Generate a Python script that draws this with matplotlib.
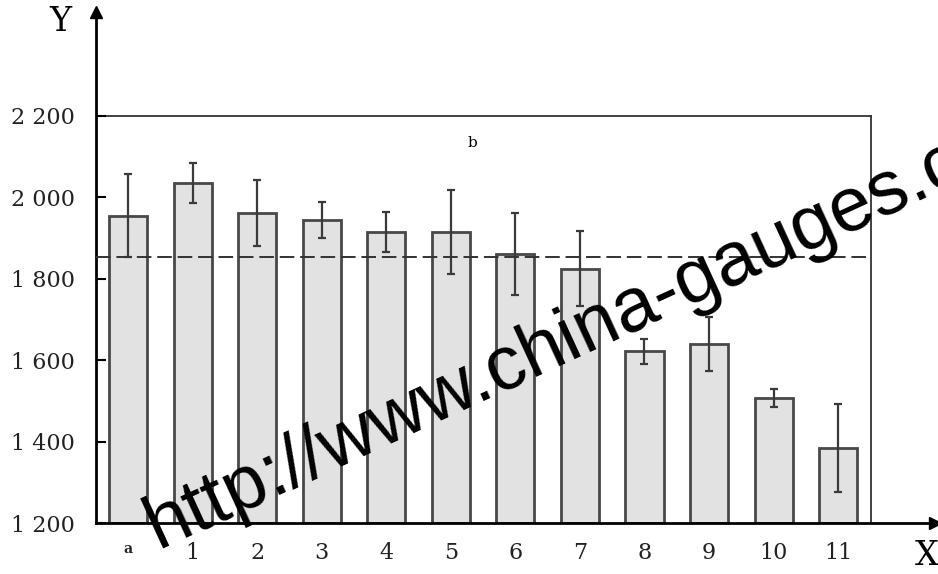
import numpy as np
import matplotlib
matplotlib.use("Agg")
import matplotlib.pyplot as plt

# values
groups = ['a', '1', '2', '3', '4', '5', '6', '7', '8', '9', '10', '11']
means = [1955, 2035, 1962, 1944, 1915, 1915, 1861, 1824, 1622, 1640, 1507, 1384]
errs = [102, 49, 81, 45, 50, 104, 101, 92, 31, 66, 23, 109]
ref_level = 1854
y_ticks = [1200, 1400, 1600, 1800, 2000, 2200]
y_ticklabels = ['1 200', '1 400', '1 600', '1 800', '2 000', '2 200']

base = 1200
edge = '#484848'
serif = 'DejaVu Serif'

fig = plt.figure(figsize=(9.38, 5.74), dpi=100)
W, H = 938, 574
# axes box in pixels: x 96..935, y 12..523
ax = fig.add_axes([96 / W, (H - 523) / H, (935 - 96) / W, (523 - 12) / H])

x = np.arange(len(groups))
xmin, xmax = -0.496, 12.50
ymax = 2455
frame_x = 11.51
ax.set_xlim(xmin, xmax)
ax.set_ylim(base, ymax)

heights = np.array(means) - base
ax.bar(x, heights, bottom=base, width=0.59, color='#e2e2e2',
       edgecolor=edge, linewidth=2, zorder=2)
ax.errorbar(x, means, yerr=errs, fmt='none', ecolor='#3a3a3a',
            elinewidth=1.6, capsize=3, capthick=1.6, zorder=3)

# dashed reference line and frame box
ax.plot([xmin, frame_x], [ref_level, ref_level], color='#333333', lw=1.4,
        dashes=(7.5, 3), zorder=4)
ax.plot([xmin, frame_x], [2200, 2200], color='#333333', lw=1.3, zorder=1)
ax.plot([frame_x, frame_x], [base, 2200], color='#333333', lw=1.3, zorder=1)

# axes with arrows
for s in ['top', 'right']:
    ax.spines[s].set_visible(False)
ax.spines['left'].set_linewidth(2)
ax.spines['bottom'].set_linewidth(2)
ax.plot([xmax], [base], marker='>', color='black', ms=9, clip_on=False, zorder=5)
ax.plot([xmin], [ymax], marker='^', color='black', ms=8, clip_on=False, zorder=5)

ax.set_yticks(y_ticks)
ax.set_yticklabels(y_ticklabels, fontsize=16, family=serif, color='#222222')
ax.tick_params(axis='y', direction='in', length=7, width=1.5, pad=15)
ax.set_xticks(x)
ax.set_xticklabels(groups, fontsize=16, family=serif, color='#222222')
ax.tick_params(axis='x', length=0, pad=14)
lab_a = ax.get_xticklabels()[0]
lab_a.set_fontsize(10)
lab_a.set_fontweight('bold')

fig.text(60 / W, 1 - 22 / H, 'Y', fontsize=24, family=serif, ha='center', va='center')
fig.text(927 / W, 1 - 556 / H, 'X', fontsize=24, family=serif, ha='center', va='center')
ax.text(5.33, 2133, 'b', fontsize=11, family=serif, ha='center', va='center')

# watermark
fig.text(158 / W, 1 - 548 / H, 'http://www.china-gauges.com', rotation=24.7,
         rotation_mode='anchor', ha='left', va='baseline', fontsize=55,
         family='Liberation Sans', color='black', zorder=10)

fig.savefig('out.png', dpi=100)
